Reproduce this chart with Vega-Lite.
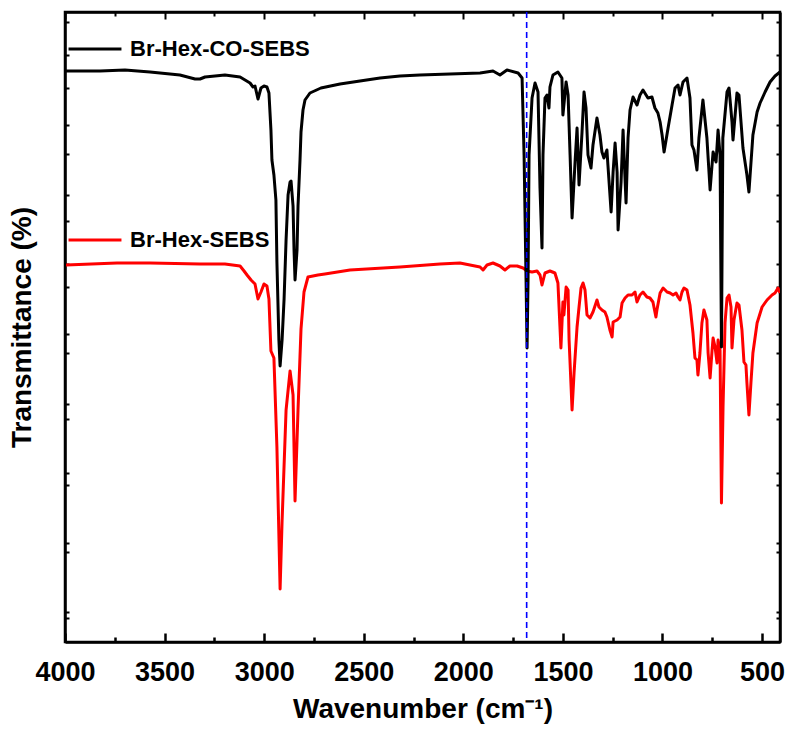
{
  "$schema": "https://vega.github.io/schema/vega-lite/v6.json",
  "width": 715,
  "height": 630,
  "autosize": "none",
  "padding": {"left": 65, "top": 12, "right": 11, "bottom": 87},
  "background": "white",
  "config": {
    "view": {"stroke": "black", "strokeWidth": 2.5},
    "font": "Liberation Sans"
  },
  "datasets": {
    "co": [
      {"sample":"Br-Hex-CO-SEBS","wn":3995,"t":57.1},{"sample":"Br-Hex-CO-SEBS","wn":3824,"t":57.1},{"sample":"Br-Hex-CO-SEBS","wn":3699,"t":57.2},{"sample":"Br-Hex-CO-SEBS","wn":3573,"t":57.0},{"sample":"Br-Hex-CO-SEBS","wn":3423,"t":56.7},{"sample":"Br-Hex-CO-SEBS","wn":3347,"t":56.3},{"sample":"Br-Hex-CO-SEBS","wn":3322,"t":56.3},{"sample":"Br-Hex-CO-SEBS","wn":3297,"t":56.5},{"sample":"Br-Hex-CO-SEBS","wn":3197,"t":56.7},{"sample":"Br-Hex-CO-SEBS","wn":3121,"t":56.5},{"sample":"Br-Hex-CO-SEBS","wn":3096,"t":56.2},{"sample":"Br-Hex-CO-SEBS","wn":3071,"t":55.9},{"sample":"Br-Hex-CO-SEBS","wn":3056,"t":55.5},{"sample":"Br-Hex-CO-SEBS","wn":3046,"t":55.6},{"sample":"Br-Hex-CO-SEBS","wn":3031,"t":54.3},{"sample":"Br-Hex-CO-SEBS","wn":3016,"t":55.4},{"sample":"Br-Hex-CO-SEBS","wn":3001,"t":55.6},{"sample":"Br-Hex-CO-SEBS","wn":2986,"t":55.5},{"sample":"Br-Hex-CO-SEBS","wn":2976,"t":54.9},{"sample":"Br-Hex-CO-SEBS","wn":2966,"t":51.2},{"sample":"Br-Hex-CO-SEBS","wn":2961,"t":48.2},{"sample":"Br-Hex-CO-SEBS","wn":2951,"t":46.7},{"sample":"Br-Hex-CO-SEBS","wn":2941,"t":44.2},{"sample":"Br-Hex-CO-SEBS","wn":2936,"t":38.0},{"sample":"Br-Hex-CO-SEBS","wn":2926,"t":30.2},{"sample":"Br-Hex-CO-SEBS","wn":2920,"t":27.6},{"sample":"Br-Hex-CO-SEBS","wn":2910,"t":30.2},{"sample":"Br-Hex-CO-SEBS","wn":2900,"t":34.3},{"sample":"Br-Hex-CO-SEBS","wn":2890,"t":40.2},{"sample":"Br-Hex-CO-SEBS","wn":2880,"t":44.7},{"sample":"Br-Hex-CO-SEBS","wn":2870,"t":46.0},{"sample":"Br-Hex-CO-SEBS","wn":2865,"t":46.1},{"sample":"Br-Hex-CO-SEBS","wn":2855,"t":43.6},{"sample":"Br-Hex-CO-SEBS","wn":2850,"t":39.2},{"sample":"Br-Hex-CO-SEBS","wn":2845,"t":36.2},{"sample":"Br-Hex-CO-SEBS","wn":2835,"t":39.2},{"sample":"Br-Hex-CO-SEBS","wn":2830,"t":43.6},{"sample":"Br-Hex-CO-SEBS","wn":2820,"t":48.2},{"sample":"Br-Hex-CO-SEBS","wn":2815,"t":51.0},{"sample":"Br-Hex-CO-SEBS","wn":2805,"t":53.2},{"sample":"Br-Hex-CO-SEBS","wn":2795,"t":54.2},{"sample":"Br-Hex-CO-SEBS","wn":2770,"t":54.9},{"sample":"Br-Hex-CO-SEBS","wn":2715,"t":55.4},{"sample":"Br-Hex-CO-SEBS","wn":2619,"t":55.8},{"sample":"Br-Hex-CO-SEBS","wn":2519,"t":56.1},{"sample":"Br-Hex-CO-SEBS","wn":2418,"t":56.4},{"sample":"Br-Hex-CO-SEBS","wn":2318,"t":56.6},{"sample":"Br-Hex-CO-SEBS","wn":2218,"t":56.7},{"sample":"Br-Hex-CO-SEBS","wn":2067,"t":56.8},{"sample":"Br-Hex-CO-SEBS","wn":1916,"t":56.9},{"sample":"Br-Hex-CO-SEBS","wn":1851,"t":57.1},{"sample":"Br-Hex-CO-SEBS","wn":1816,"t":56.7},{"sample":"Br-Hex-CO-SEBS","wn":1781,"t":57.2},{"sample":"Br-Hex-CO-SEBS","wn":1725,"t":56.9},{"sample":"Br-Hex-CO-SEBS","wn":1705,"t":56.4},{"sample":"Br-Hex-CO-SEBS","wn":1695,"t":48.7},{"sample":"Br-Hex-CO-SEBS","wn":1685,"t":36.2},{"sample":"Br-Hex-CO-SEBS","wn":1680,"t":29.4},{"sample":"Br-Hex-CO-SEBS","wn":1675,"t":36.2},{"sample":"Br-Hex-CO-SEBS","wn":1670,"t":48.7},{"sample":"Br-Hex-CO-SEBS","wn":1655,"t":54.4},{"sample":"Br-Hex-CO-SEBS","wn":1640,"t":55.9},{"sample":"Br-Hex-CO-SEBS","wn":1625,"t":55.0},{"sample":"Br-Hex-CO-SEBS","wn":1615,"t":45.4},{"sample":"Br-Hex-CO-SEBS","wn":1605,"t":39.4},{"sample":"Br-Hex-CO-SEBS","wn":1600,"t":48.7},{"sample":"Br-Hex-CO-SEBS","wn":1590,"t":54.4},{"sample":"Br-Hex-CO-SEBS","wn":1580,"t":54.7},{"sample":"Br-Hex-CO-SEBS","wn":1570,"t":53.4},{"sample":"Br-Hex-CO-SEBS","wn":1565,"t":55.5},{"sample":"Br-Hex-CO-SEBS","wn":1550,"t":56.7},{"sample":"Br-Hex-CO-SEBS","wn":1525,"t":57.0},{"sample":"Br-Hex-CO-SEBS","wn":1505,"t":56.4},{"sample":"Br-Hex-CO-SEBS","wn":1500,"t":52.7},{"sample":"Br-Hex-CO-SEBS","wn":1484,"t":56.0},{"sample":"Br-Hex-CO-SEBS","wn":1474,"t":54.7},{"sample":"Br-Hex-CO-SEBS","wn":1464,"t":48.7},{"sample":"Br-Hex-CO-SEBS","wn":1454,"t":42.4},{"sample":"Br-Hex-CO-SEBS","wn":1439,"t":48.0},{"sample":"Br-Hex-CO-SEBS","wn":1429,"t":51.4},{"sample":"Br-Hex-CO-SEBS","wn":1419,"t":45.7},{"sample":"Br-Hex-CO-SEBS","wn":1404,"t":51.0},{"sample":"Br-Hex-CO-SEBS","wn":1394,"t":55.0},{"sample":"Br-Hex-CO-SEBS","wn":1384,"t":53.4},{"sample":"Br-Hex-CO-SEBS","wn":1374,"t":48.7},{"sample":"Br-Hex-CO-SEBS","wn":1359,"t":47.4},{"sample":"Br-Hex-CO-SEBS","wn":1349,"t":49.7},{"sample":"Br-Hex-CO-SEBS","wn":1329,"t":52.4},{"sample":"Br-Hex-CO-SEBS","wn":1314,"t":50.7},{"sample":"Br-Hex-CO-SEBS","wn":1304,"t":49.0},{"sample":"Br-Hex-CO-SEBS","wn":1294,"t":48.4},{"sample":"Br-Hex-CO-SEBS","wn":1279,"t":49.2},{"sample":"Br-Hex-CO-SEBS","wn":1274,"t":47.7},{"sample":"Br-Hex-CO-SEBS","wn":1258,"t":43.0},{"sample":"Br-Hex-CO-SEBS","wn":1248,"t":47.0},{"sample":"Br-Hex-CO-SEBS","wn":1238,"t":49.9},{"sample":"Br-Hex-CO-SEBS","wn":1228,"t":47.0},{"sample":"Br-Hex-CO-SEBS","wn":1223,"t":41.2},{"sample":"Br-Hex-CO-SEBS","wn":1208,"t":46.0},{"sample":"Br-Hex-CO-SEBS","wn":1198,"t":51.2},{"sample":"Br-Hex-CO-SEBS","wn":1193,"t":48.7},{"sample":"Br-Hex-CO-SEBS","wn":1183,"t":43.9},{"sample":"Br-Hex-CO-SEBS","wn":1173,"t":50.4},{"sample":"Br-Hex-CO-SEBS","wn":1163,"t":53.2},{"sample":"Br-Hex-CO-SEBS","wn":1148,"t":54.5},{"sample":"Br-Hex-CO-SEBS","wn":1128,"t":53.7},{"sample":"Br-Hex-CO-SEBS","wn":1113,"t":54.7},{"sample":"Br-Hex-CO-SEBS","wn":1098,"t":55.2},{"sample":"Br-Hex-CO-SEBS","wn":1073,"t":54.4},{"sample":"Br-Hex-CO-SEBS","wn":1053,"t":54.5},{"sample":"Br-Hex-CO-SEBS","wn":1038,"t":53.4},{"sample":"Br-Hex-CO-SEBS","wn":1023,"t":52.9},{"sample":"Br-Hex-CO-SEBS","wn":1012,"t":52.0},{"sample":"Br-Hex-CO-SEBS","wn":1002,"t":50.7},{"sample":"Br-Hex-CO-SEBS","wn":992,"t":49.0},{"sample":"Br-Hex-CO-SEBS","wn":982,"t":50.2},{"sample":"Br-Hex-CO-SEBS","wn":972,"t":51.4},{"sample":"Br-Hex-CO-SEBS","wn":952,"t":53.7},{"sample":"Br-Hex-CO-SEBS","wn":937,"t":55.4},{"sample":"Br-Hex-CO-SEBS","wn":922,"t":55.7},{"sample":"Br-Hex-CO-SEBS","wn":912,"t":54.7},{"sample":"Br-Hex-CO-SEBS","wn":897,"t":56.0},{"sample":"Br-Hex-CO-SEBS","wn":877,"t":56.4},{"sample":"Br-Hex-CO-SEBS","wn":862,"t":54.4},{"sample":"Br-Hex-CO-SEBS","wn":852,"t":49.7},{"sample":"Br-Hex-CO-SEBS","wn":842,"t":49.2},{"sample":"Br-Hex-CO-SEBS","wn":827,"t":47.2},{"sample":"Br-Hex-CO-SEBS","wn":817,"t":50.4},{"sample":"Br-Hex-CO-SEBS","wn":797,"t":54.2},{"sample":"Br-Hex-CO-SEBS","wn":777,"t":50.4},{"sample":"Br-Hex-CO-SEBS","wn":761,"t":45.2},{"sample":"Br-Hex-CO-SEBS","wn":746,"t":49.0},{"sample":"Br-Hex-CO-SEBS","wn":731,"t":48.0},{"sample":"Br-Hex-CO-SEBS","wn":721,"t":51.2},{"sample":"Br-Hex-CO-SEBS","wn":711,"t":48.7},{"sample":"Br-Hex-CO-SEBS","wn":704,"t":29.5},{"sample":"Br-Hex-CO-SEBS","wn":697,"t":50.4},{"sample":"Br-Hex-CO-SEBS","wn":676,"t":55.0},{"sample":"Br-Hex-CO-SEBS","wn":666,"t":55.4},{"sample":"Br-Hex-CO-SEBS","wn":651,"t":52.0},{"sample":"Br-Hex-CO-SEBS","wn":646,"t":50.2},{"sample":"Br-Hex-CO-SEBS","wn":626,"t":54.9},{"sample":"Br-Hex-CO-SEBS","wn":616,"t":54.7},{"sample":"Br-Hex-CO-SEBS","wn":596,"t":49.4},{"sample":"Br-Hex-CO-SEBS","wn":576,"t":46.7},{"sample":"Br-Hex-CO-SEBS","wn":566,"t":45.0},{"sample":"Br-Hex-CO-SEBS","wn":546,"t":50.7},{"sample":"Br-Hex-CO-SEBS","wn":525,"t":53.0},{"sample":"Br-Hex-CO-SEBS","wn":510,"t":53.9},{"sample":"Br-Hex-CO-SEBS","wn":485,"t":55.0},{"sample":"Br-Hex-CO-SEBS","wn":460,"t":56.0},{"sample":"Br-Hex-CO-SEBS","wn":435,"t":56.6},{"sample":"Br-Hex-CO-SEBS","wn":410,"t":57.0}
    ],
    "hex": [
      {"sample":"Br-Hex-SEBS","wn":3995,"t":37.7},{"sample":"Br-Hex-SEBS","wn":3739,"t":37.9},{"sample":"Br-Hex-SEBS","wn":3573,"t":37.9},{"sample":"Br-Hex-SEBS","wn":3322,"t":37.8},{"sample":"Br-Hex-SEBS","wn":3197,"t":37.8},{"sample":"Br-Hex-SEBS","wn":3121,"t":37.6},{"sample":"Br-Hex-SEBS","wn":3101,"t":37.1},{"sample":"Br-Hex-SEBS","wn":3086,"t":36.7},{"sample":"Br-Hex-SEBS","wn":3066,"t":36.2},{"sample":"Br-Hex-SEBS","wn":3046,"t":35.8},{"sample":"Br-Hex-SEBS","wn":3031,"t":34.3},{"sample":"Br-Hex-SEBS","wn":3016,"t":35.0},{"sample":"Br-Hex-SEBS","wn":3001,"t":35.8},{"sample":"Br-Hex-SEBS","wn":2986,"t":35.6},{"sample":"Br-Hex-SEBS","wn":2976,"t":34.3},{"sample":"Br-Hex-SEBS","wn":2966,"t":29.1},{"sample":"Br-Hex-SEBS","wn":2951,"t":28.4},{"sample":"Br-Hex-SEBS","wn":2936,"t":19.5},{"sample":"Br-Hex-SEBS","wn":2920,"t":5.3},{"sample":"Br-Hex-SEBS","wn":2910,"t":12.1},{"sample":"Br-Hex-SEBS","wn":2890,"t":23.2},{"sample":"Br-Hex-SEBS","wn":2870,"t":27.1},{"sample":"Br-Hex-SEBS","wn":2855,"t":24.7},{"sample":"Br-Hex-SEBS","wn":2845,"t":14.1},{"sample":"Br-Hex-SEBS","wn":2830,"t":23.2},{"sample":"Br-Hex-SEBS","wn":2815,"t":31.3},{"sample":"Br-Hex-SEBS","wn":2800,"t":35.0},{"sample":"Br-Hex-SEBS","wn":2780,"t":36.5},{"sample":"Br-Hex-SEBS","wn":2730,"t":36.7},{"sample":"Br-Hex-SEBS","wn":2695,"t":36.8},{"sample":"Br-Hex-SEBS","wn":2569,"t":37.2},{"sample":"Br-Hex-SEBS","wn":2318,"t":37.5},{"sample":"Br-Hex-SEBS","wn":2117,"t":37.8},{"sample":"Br-Hex-SEBS","wn":2017,"t":37.9},{"sample":"Br-Hex-SEBS","wn":1916,"t":37.5},{"sample":"Br-Hex-SEBS","wn":1901,"t":37.2},{"sample":"Br-Hex-SEBS","wn":1881,"t":37.7},{"sample":"Br-Hex-SEBS","wn":1851,"t":37.9},{"sample":"Br-Hex-SEBS","wn":1816,"t":37.6},{"sample":"Br-Hex-SEBS","wn":1791,"t":37.2},{"sample":"Br-Hex-SEBS","wn":1766,"t":37.6},{"sample":"Br-Hex-SEBS","wn":1730,"t":37.6},{"sample":"Br-Hex-SEBS","wn":1700,"t":37.4},{"sample":"Br-Hex-SEBS","wn":1680,"t":37.1},{"sample":"Br-Hex-SEBS","wn":1655,"t":37.0},{"sample":"Br-Hex-SEBS","wn":1630,"t":37.1},{"sample":"Br-Hex-SEBS","wn":1615,"t":36.7},{"sample":"Br-Hex-SEBS","wn":1605,"t":35.7},{"sample":"Br-Hex-SEBS","wn":1590,"t":36.9},{"sample":"Br-Hex-SEBS","wn":1565,"t":37.1},{"sample":"Br-Hex-SEBS","wn":1540,"t":36.9},{"sample":"Br-Hex-SEBS","wn":1525,"t":35.9},{"sample":"Br-Hex-SEBS","wn":1510,"t":29.4},{"sample":"Br-Hex-SEBS","wn":1500,"t":34.0},{"sample":"Br-Hex-SEBS","wn":1495,"t":32.7},{"sample":"Br-Hex-SEBS","wn":1484,"t":35.5},{"sample":"Br-Hex-SEBS","wn":1474,"t":35.2},{"sample":"Br-Hex-SEBS","wn":1469,"t":30.2},{"sample":"Br-Hex-SEBS","wn":1454,"t":23.2},{"sample":"Br-Hex-SEBS","wn":1444,"t":26.9},{"sample":"Br-Hex-SEBS","wn":1429,"t":31.5},{"sample":"Br-Hex-SEBS","wn":1419,"t":33.5},{"sample":"Br-Hex-SEBS","wn":1409,"t":35.4},{"sample":"Br-Hex-SEBS","wn":1399,"t":35.9},{"sample":"Br-Hex-SEBS","wn":1389,"t":35.2},{"sample":"Br-Hex-SEBS","wn":1379,"t":32.7},{"sample":"Br-Hex-SEBS","wn":1364,"t":32.4},{"sample":"Br-Hex-SEBS","wn":1349,"t":33.0},{"sample":"Br-Hex-SEBS","wn":1329,"t":34.2},{"sample":"Br-Hex-SEBS","wn":1319,"t":33.5},{"sample":"Br-Hex-SEBS","wn":1304,"t":33.2},{"sample":"Br-Hex-SEBS","wn":1289,"t":33.0},{"sample":"Br-Hex-SEBS","wn":1279,"t":32.5},{"sample":"Br-Hex-SEBS","wn":1264,"t":31.2},{"sample":"Br-Hex-SEBS","wn":1253,"t":30.5},{"sample":"Br-Hex-SEBS","wn":1248,"t":32.0},{"sample":"Br-Hex-SEBS","wn":1228,"t":32.2},{"sample":"Br-Hex-SEBS","wn":1213,"t":32.5},{"sample":"Br-Hex-SEBS","wn":1203,"t":33.9},{"sample":"Br-Hex-SEBS","wn":1188,"t":34.4},{"sample":"Br-Hex-SEBS","wn":1173,"t":34.7},{"sample":"Br-Hex-SEBS","wn":1153,"t":34.7},{"sample":"Br-Hex-SEBS","wn":1138,"t":35.0},{"sample":"Br-Hex-SEBS","wn":1128,"t":34.0},{"sample":"Br-Hex-SEBS","wn":1113,"t":34.7},{"sample":"Br-Hex-SEBS","wn":1098,"t":35.0},{"sample":"Br-Hex-SEBS","wn":1078,"t":34.5},{"sample":"Br-Hex-SEBS","wn":1063,"t":34.4},{"sample":"Br-Hex-SEBS","wn":1048,"t":34.0},{"sample":"Br-Hex-SEBS","wn":1033,"t":32.5},{"sample":"Br-Hex-SEBS","wn":1028,"t":33.2},{"sample":"Br-Hex-SEBS","wn":1012,"t":34.9},{"sample":"Br-Hex-SEBS","wn":997,"t":35.4},{"sample":"Br-Hex-SEBS","wn":977,"t":35.0},{"sample":"Br-Hex-SEBS","wn":962,"t":34.9},{"sample":"Br-Hex-SEBS","wn":947,"t":34.7},{"sample":"Br-Hex-SEBS","wn":932,"t":34.9},{"sample":"Br-Hex-SEBS","wn":922,"t":34.5},{"sample":"Br-Hex-SEBS","wn":912,"t":34.2},{"sample":"Br-Hex-SEBS","wn":902,"t":35.0},{"sample":"Br-Hex-SEBS","wn":892,"t":35.4},{"sample":"Br-Hex-SEBS","wn":877,"t":35.2},{"sample":"Br-Hex-SEBS","wn":862,"t":33.7},{"sample":"Br-Hex-SEBS","wn":847,"t":30.9},{"sample":"Br-Hex-SEBS","wn":837,"t":28.4},{"sample":"Br-Hex-SEBS","wn":827,"t":28.2},{"sample":"Br-Hex-SEBS","wn":822,"t":26.7},{"sample":"Br-Hex-SEBS","wn":812,"t":28.9},{"sample":"Br-Hex-SEBS","wn":802,"t":31.9},{"sample":"Br-Hex-SEBS","wn":792,"t":33.2},{"sample":"Br-Hex-SEBS","wn":777,"t":32.2},{"sample":"Br-Hex-SEBS","wn":771,"t":28.9},{"sample":"Br-Hex-SEBS","wn":761,"t":26.4},{"sample":"Br-Hex-SEBS","wn":751,"t":29.2},{"sample":"Br-Hex-SEBS","wn":746,"t":30.4},{"sample":"Br-Hex-SEBS","wn":736,"t":29.5},{"sample":"Br-Hex-SEBS","wn":726,"t":27.9},{"sample":"Br-Hex-SEBS","wn":721,"t":30.2},{"sample":"Br-Hex-SEBS","wn":711,"t":29.2},{"sample":"Br-Hex-SEBS","wn":704,"t":13.9},{"sample":"Br-Hex-SEBS","wn":696,"t":23.5},{"sample":"Br-Hex-SEBS","wn":686,"t":31.9},{"sample":"Br-Hex-SEBS","wn":676,"t":34.4},{"sample":"Br-Hex-SEBS","wn":666,"t":34.7},{"sample":"Br-Hex-SEBS","wn":656,"t":33.5},{"sample":"Br-Hex-SEBS","wn":651,"t":29.4},{"sample":"Br-Hex-SEBS","wn":641,"t":32.2},{"sample":"Br-Hex-SEBS","wn":626,"t":33.9},{"sample":"Br-Hex-SEBS","wn":616,"t":33.7},{"sample":"Br-Hex-SEBS","wn":601,"t":31.2},{"sample":"Br-Hex-SEBS","wn":591,"t":28.0},{"sample":"Br-Hex-SEBS","wn":581,"t":27.7},{"sample":"Br-Hex-SEBS","wn":576,"t":25.9},{"sample":"Br-Hex-SEBS","wn":566,"t":22.7},{"sample":"Br-Hex-SEBS","wn":556,"t":25.9},{"sample":"Br-Hex-SEBS","wn":546,"t":28.9},{"sample":"Br-Hex-SEBS","wn":525,"t":31.9},{"sample":"Br-Hex-SEBS","wn":500,"t":33.5},{"sample":"Br-Hex-SEBS","wn":475,"t":34.2},{"sample":"Br-Hex-SEBS","wn":450,"t":34.7},{"sample":"Br-Hex-SEBS","wn":435,"t":34.9},{"sample":"Br-Hex-SEBS","wn":420,"t":35.4},{"sample":"Br-Hex-SEBS","wn":410,"t":34.9}
    ],
    "marker": [{"wn": 1682}]
  },
  "layer": [
    {
      "data": {"name": "hex"},
      "mark": {"type": "line", "strokeWidth": 3, "strokeJoin": "round", "clip": true},
      "encoding": {
        "x": {
          "field": "wn", "type": "quantitative",
          "scale": {"domain": [410, 4000], "reverse": true, "nice": false, "zero": false},
          "axis": {
            "orient": "bottom",
            "values": [4000, 3500, 3000, 2500, 2000, 1500, 1000, 500],
            "format": "d",
            "tickSize": -9,
            "tickWidth": 2.5, "tickColor": "black",
            "domainColor": "black", "domainWidth": 2.5,
            "grid": false,
            "labelFont": "Liberation Sans", "labelFontSize": 27, "labelFontWeight": "bold", "labelColor": "black",
            "labelPadding": 26, "labelFlush": false, "labelOverlap": false,
            "title": "Wavenumber (cm⁻¹)",
            "titleFont": "Liberation Sans", "titleFontSize": 28, "titleFontWeight": "bold", "titleColor": "black",
            "titlePadding": 10
          }
        },
        "y": {
          "field": "t", "type": "quantitative",
          "scale": {"domain": [0, 63], "nice": false, "zero": false},
          "axis": {
            "orient": "left",
            "values": [2.4, 3.0, 9.0, 9.9, 15.7, 16.9, 22.3, 23.8, 28.9, 30.8, 35.5, 37.8, 42.1, 44.7, 48.8, 51.7, 55.4, 58.7, 62.0],
            "labels": false,
            "tickSize": -4, "tickWidth": 2, "tickColor": "black",
            "domainColor": "black", "domainWidth": 2.5, "grid": false,
            "title": "Transmittance (%)",
            "titleFont": "Liberation Sans", "titleFontSize": 28, "titleFontWeight": "bold", "titleColor": "black",
            "titlePadding": 28
          }
        },
        "color": {
          "field": "sample", "type": "nominal",
          "scale": {"domain": ["Br-Hex-CO-SEBS", "Br-Hex-SEBS"], "range": ["black", "red"]},
          "legend": {
            "orient": "none", "legendX": 2, "legendY": 9,
            "title": null,
            "symbolType": "stroke", "symbolSize": 2800, "symbolStrokeWidth": 3,
            "labelFont": "Liberation Sans", "labelFontSize": 22, "labelFontWeight": "bold", "labelColor": "black",
            "labelOffset": 7, "rowPadding": 152, "labelLimit": 400
          }
        }
      }
    },
    {
      "data": {"name": "co"},
      "mark": {"type": "line", "strokeWidth": 3, "strokeJoin": "round", "clip": true},
      "encoding": {
        "x": {
          "field": "wn", "type": "quantitative",
          "axis": {
            "orient": "bottom",
            "values": [3750, 3250, 2750, 2250, 1750, 1250, 750],
            "labels": false, "title": null, "domain": false,
            "tickSize": -5, "tickWidth": 2.5, "tickColor": "black", "grid": false
          }
        },
        "y": {"field": "t", "type": "quantitative", "axis": null},
        "color": {"field": "sample", "type": "nominal"}
      }
    },
    {
      "data": {"name": "marker"},
      "mark": {"type": "rule", "color": "#0000ff", "strokeWidth": 1.6, "strokeDash": [6, 4]},
      "encoding": {
        "x": {
          "field": "wn", "type": "quantitative",
          "axis": {
            "orient": "top",
            "values": [4000, 3500, 3000, 2500, 2000, 1500, 1000, 500],
            "labels": false, "title": null,
            "tickSize": -7, "tickWidth": 2, "tickColor": "black",
            "domainColor": "black", "domainWidth": 2.5, "grid": false
          }
        }
      }
    },
    {
      "data": {"name": "co"},
      "mark": {"type": "point", "opacity": 0},
      "encoding": {
        "x": {
          "field": "wn", "type": "quantitative",
          "axis": {
            "orient": "top",
            "values": [3750, 3250, 2750, 2250, 1750, 1250, 750],
            "labels": false, "title": null, "domain": false,
            "tickSize": -4, "tickWidth": 2, "tickColor": "black", "grid": false
          }
        },
        "y": {
          "field": "t", "type": "quantitative",
          "axis": {
            "orient": "right",
            "values": [2.4, 3.0, 9.0, 9.9, 15.7, 16.9, 22.3, 23.8, 28.9, 30.8, 35.5, 37.8, 42.1, 44.7, 48.8, 51.7, 55.4, 58.7, 62.0],
            "labels": false, "title": null,
            "tickSize": -4, "tickWidth": 2, "tickColor": "black",
            "domainColor": "black", "domainWidth": 2.5, "grid": false
          }
        }
      }
    }
  ],
  "resolve": {"axis": {"x": "independent", "y": "independent"}}
}
